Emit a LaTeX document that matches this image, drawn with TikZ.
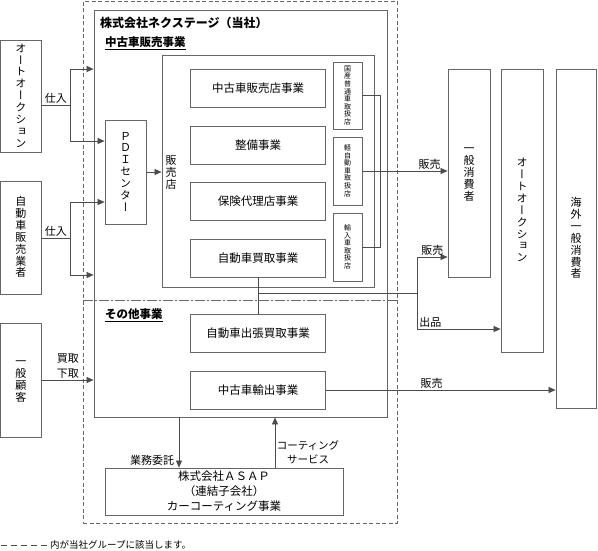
\documentclass[tikz,border=0pt]{standalone}
\usepackage{fontspec}
\setmainfont{Noto Sans CJK JP}
\newfontfamily\tatefont[RawFeature=+vert]{Noto Sans CJK JP}
\usetikzlibrary{arrows.meta,calc,positioning}
\definecolor{linegray}{gray}{0.3}
\definecolor{boxgray}{gray}{0.4}

% vertical text: one character per line
\def\tateEnd{}
\def\tateA#1{\ifx#1\tateEnd\else\hbox to 1.1em{\hss\vrule height .88em depth .2em width 0pt\relax#1\hss}\expandafter\tateA\fi}
\newcommand\tate[1]{\vbox{\tatefont\offinterlineskip\tateA#1\tateEnd}}

\tikzset{
  box/.style={draw=boxgray, line width=0.8pt, inner sep=0pt, font=\fontsize{11.5}{14}\selectfont},
  tatebox/.style={box, font=\fontsize{11}{12}\selectfont},
  smallbox/.style={box, font=\fontsize{7}{8}\selectfont},
  conn/.style={draw=linegray, line width=0.7pt},
  arr/.style={conn, -{Triangle[length=7pt,width=6pt]}},
  lbl/.style={font=\fontsize{11}{12.5}\selectfont, inner sep=1.5pt},
  ttl/.style={anchor=west, inner sep=0pt, font=\bfseries\fontsize{11.5}{14}\selectfont},
  grpline/.style={draw=boxgray, line width=0.8pt, dash pattern=on 4pt off 2.5pt},
}

\begin{document}
\begin{tikzpicture}[x=1pt,y=-1pt]
        \useasboundingbox (0,0) rectangle (598,550);
        %Group and company frames
        \node[grpline, inner sep=0pt, minimum width=314pt, minimum height=522pt] (grp) at (240,262) {};
        \node[box, minimum width=293pt, minimum height=407pt] (nx) at (240.5,213.5) {};
        \node[ttl, font=\bfseries\fontsize{12}{14}\selectfont] (nxttl) at (100,22.5) {株式会社ネクステージ（当社）};
        \node[ttl] (sect1) at (105,43) {\underline{中古車販売事業}};
        \node[ttl] (sect2) at (105,315) {\underline{その他事業}};
        \draw[draw=boxgray, line width=0.7pt, dash pattern=on 10pt off 2pt on 2pt off 2pt] (grp.west |- 0,300) -- (grp.east |- 0,300);

        %Suppliers and customers
        \node[tatebox, minimum width=41pt, minimum height=112pt] (auc) at (21,96) {\tate{オートオークション}};
        \node[tatebox, minimum width=41pt, minimum height=113pt] (dealer) at (21,237.5) {\tate{自動車販売業者}};
        \node[tatebox, minimum width=41pt, minimum height=114pt] (cust) at (21,380) {\tate{一般顧客}};
        \node[tatebox, minimum width=42pt, minimum height=208pt] (cons) at (469,173) {\tate{一般消費者}};
        \node[tatebox, minimum width=42pt, minimum height=283pt] (auc2) at (522,210.5) {\tate{オートオークション}};
        \node[tatebox, minimum width=40pt, minimum height=339pt] (ovs) at (576,238.5) {\tate{海外一般消費者}};

        %Used car sales
        \node[tatebox, minimum width=41pt, minimum height=104pt] (pdi) at (125.5,172) {\tate{ＰＤＩセンター}};
        \node[box, minimum width=212pt, minimum height=232pt] (shop) at (268,171) {};
        \node[tatebox, draw=none] (shoplbl) at (171,173) {\tate{販売店}};
        \node[box, minimum width=135pt, minimum height=38pt] (biz1) at (258,88) {中古車販売店事業};
        \node[box, minimum width=135pt, minimum height=38pt] (biz2) at (258,145) {整備事業};
        \node[box, minimum width=135pt, minimum height=38pt] (biz3) at (258,201) {保険代理店事業};
        \node[box, minimum width=135pt, minimum height=38pt] (biz4) at (258,258) {自動車買取事業};
        \node[smallbox, minimum width=29pt, minimum height=67pt] (dom) at (347.5,95.5) {\tate{国産普通車取扱店}};
        \node[smallbox, minimum width=29pt, minimum height=68pt] (kei) at (347.5,171) {\tate{軽自動車取扱店}};
        \node[smallbox, minimum width=29pt, minimum height=68pt] (imp) at (347.5,247) {\tate{輸入車取扱店}};

        %Other business
        \node[box, minimum width=135pt, minimum height=38pt] (buy) at (258,333) {自動車出張買取事業};
        \node[box, minimum width=135pt, minimum height=38pt] (exp) at (258,390) {中古車輸出事業};
        \node[box, minimum width=238pt, minimum height=47pt, align=center, font=\fontsize{11.5}{15}\selectfont] (asap) at (224,491.5) {株式会社ＡＳＡＰ\\（連結子会社）\\カーコーティング事業};

        %Purchasing
        \coordinate (ja) at (70,105);
        \coordinate (jb) at (70,238);
        \draw[conn] (auc.east |- ja) -- (ja) node[lbl, midway, above] {仕入};
        \draw[arr] (ja) |- (nx.west |- 0,69);
        \draw[arr] (ja) |- (pdi.west |- 0,141);
        \draw[conn] (dealer.east |- jb) -- (jb) node[lbl, midway, above] {仕入};
        \draw[arr] (jb) |- (pdi.west |- 0,202);
        \draw[arr] (jb) |- (nx.west |- 0,275);
        \draw[arr] (pdi.east) -- (shop.west |- pdi.east);
        \draw[arr] (cust.east) -- (nx.west |- cust.east) node[lbl, midway, above, align=center, font=\fontsize{11}{14.5}\selectfont] {買取\\下取};

        %Sales
        \draw[conn] (dom.east) -- ++(18,0) |- (imp.east);
        \draw[arr] (kei.east) -- (cons.west |- kei.east) node[lbl, pos=0.79, above] {販売};
        \coordinate (jc) at (biz4.south |- 0,293);
        \coordinate (jd) at (417,293);
        \draw[conn] (biz4.south) -- (buy.north);
        \draw[conn] (jc) -- (jd);
        \draw[arr] (jd) |- (cons.west |- 0,257) node[lbl, pos=0.75, above] {販売};
        \draw[arr] (jd) |- (auc2.west |- 0,329) node[lbl, pos=0.58, above] {出品};
        \draw[arr] (exp.east) -- (ovs.west |- exp.east) node[lbl, pos=0.46, above] {販売};

        %Subsidiary
        \draw[arr] (nx.south -| 179,0) -- (asap.north -| 179,0) node[lbl, pos=0.85, left, xshift=-3pt] {業務委託};
        \draw[arr] (asap.north -| 275,0) -- (nx.south -| 275,0) node[lbl, pos=0.31, right, align=center, font=\fontsize{10.5}{14}\selectfont] {コーティング\\サービス};

        %Note
        \node[anchor=west, inner sep=0pt, font=\fontsize{9.5}{11}\selectfont] (note) at (50,545) {内が当社グループに該当します。};
        \draw[draw=linegray, line width=0.7pt, dash pattern=on 6pt off 4pt] (0.5,545) -- (note.west);
      \end{tikzpicture}
\end{document}
